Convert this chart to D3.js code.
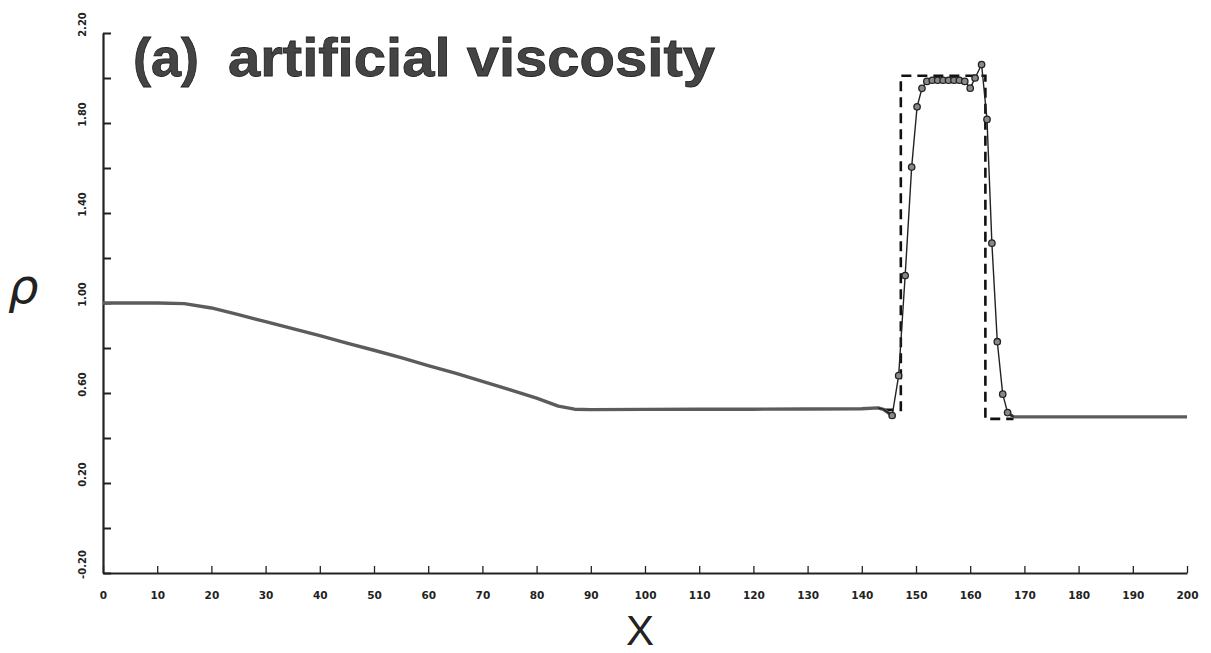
<!DOCTYPE html>
<html>
<head>
<meta charset="utf-8">
<script src="https://cdn.jsdelivr.net/npm/d3@7"></script>
<style>
  body { margin: 0; background: #fff; }
</style>
</head>
<body>
<div id="chart"></div>
<script>
// numerical solution (artificial viscosity)
const numX = [0, 10, 15, 20, 25, 30, 35, 40, 45, 50, 55, 60, 65, 70, 75, 80, 84, 87, 90, 100, 110, 120, 130, 140, 143, 144,
  145.6, 146.8, 148.0, 149.2, 150.2, 151.1, 152, 153, 154, 155, 156, 157, 158, 159, 160, 160.9, 162.1, 163.1, 164.0, 165.0, 166.0, 166.9,
  168, 180, 190, 200];
const numRho = [1.00, 1.00, 0.997, 0.978, 0.948, 0.917, 0.886, 0.855, 0.822, 0.790, 0.757, 0.722, 0.688, 0.652, 0.615, 0.577, 0.542, 0.528, 0.526, 0.527, 0.528, 0.528, 0.529, 0.530, 0.534, 0.527,
  0.500, 0.677, 1.122, 1.604, 1.872, 1.954, 1.985, 1.99, 1.99, 1.99, 1.99, 1.99, 1.99, 1.985, 1.955, 2.00, 2.06, 1.816, 1.266, 0.828, 0.595, 0.513,
  0.494, 0.494, 0.494, 0.494];

// exact solution (dashed)
const exactX = [144, 147.2, 147.2, 162.8, 162.8, 168];
const exactRho = [0.525, 0.525, 2.01, 2.01, 0.485, 0.485];

const xTicks = [0, 10, 20, 30, 40, 50, 60, 70, 80, 90, 100, 110, 120, 130, 140, 150, 160, 170, 180, 190, 200];
const yTicks = [-0.2, 0, 0.2, 0.4, 0.6, 0.8, 1.0, 1.2, 1.4, 1.6, 1.8, 2.0, 2.2];
const yLabelValues = [2.2, 1.8, 1.4, 1.0, 0.6, 0.2, -0.2];
const yLabels = ['2.20', '1.80', '1.40', '1.00', '0.60', '0.20', '-0.20'];

const width = 1211, height = 653;

const svg = d3.select('#chart')
  .append('svg')
  .attr('width', width)
  .attr('height', height);

const x = d3.scaleLinear().domain([0, 200]).range([103, 1187]);
const y = d3.scaleLinear().domain([-0.2, 2.2]).range([573, 33]);

// axes
const xAxis = d3.axisBottom(x)
  .tickValues(xTicks)
  .tickSizeInner(-7)
  .tickSizeOuter(0)
  .tickPadding(19);

const gx = svg.append('g')
  .attr('transform', `translate(0,${y(-0.2)})`)
  .call(xAxis);
gx.select('.domain').attr('stroke', '#222').attr('stroke-width', 2.2);
gx.selectAll('.tick line').attr('stroke', '#222').attr('stroke-width', 1.3);
gx.selectAll('.tick text')
  .style('font-family', 'DejaVu Sans')
  .style('font-weight', 'bold')
  .style('font-size', '10.5px')
  .attr('fill', '#222');

const yAxis = d3.axisLeft(y)
  .tickValues(yTicks)
  .tickSizeInner(-8)
  .tickSizeOuter(0)
  .tickFormat(d => {
    const i = yLabelValues.findIndex(v => Math.abs(v - d) < 1e-6);
    return i >= 0 ? yLabels[i] : '';
  });

const gy = svg.append('g')
  .attr('transform', `translate(${x(0)},0)`)
  .call(yAxis);
gy.select('.domain').attr('stroke', '#222').attr('stroke-width', 2.2);
gy.selectAll('.tick line').attr('stroke', '#222').attr('stroke-width', 2);
gy.selectAll('.tick text')
  .attr('x', 0)
  .attr('dy', 0)
  .attr('text-anchor', 'middle')
  .attr('transform', 'translate(-17,-9) rotate(-90)')
  .style('font-family', 'DejaVu Sans')
  .style('font-weight', 'bold')
  .style('font-size', '10px')
  .attr('fill', '#222');

// exact solution
const line = d3.line()
  .x(d => x(d[0]))
  .y(d => y(d[1]));

svg.append('path')
  .datum(exactX.map((v, i) => [v, exactRho[i]]))
  .attr('d', line)
  .attr('fill', 'none')
  .attr('stroke', '#111')
  .attr('stroke-width', 2.6)
  .attr('stroke-dasharray', '10 6');

// numerical solution
const numData = numX.map((v, i) => [v, numRho[i]]);

// smooth parts: thick grey trace
[numData.filter(d => d[0] <= 145.6), numData.filter(d => d[0] >= 166.9)].forEach(seg => {
  svg.append('path')
    .datum(seg)
    .attr('d', line)
    .attr('fill', 'none')
    .attr('stroke', '#5c5c5c')
    .attr('stroke-width', 3.4)
    .attr('stroke-linejoin', 'round');
});

// shock region: thin line with circles
svg.append('path')
  .datum(numData.filter(d => d[0] >= 143 && d[0] <= 168))
  .attr('d', line)
  .attr('fill', 'none')
  .attr('stroke', '#222')
  .attr('stroke-width', 1.4);

svg.append('g')
  .selectAll('circle')
  .data(numData.filter(d => d[0] >= 145 && d[0] <= 167))
  .enter()
  .append('circle')
  .attr('cx', d => x(d[0]))
  .attr('cy', d => y(d[1]))
  .attr('r', 3.2)
  .attr('fill', '#888')
  .attr('stroke', '#222')
  .attr('stroke-width', 1.3);

// title
svg.append('text')
  .attr('x', 133)
  .attr('y', 76)
  .style('font-family', 'Liberation Sans')
  .style('font-weight', 'bold')
  .style('font-size', '54px')
  .attr('fill', '#444')
  .attr('stroke', '#222')
  .attr('stroke-width', 0.8)
  .text('(a)');

svg.append('text')
  .attr('x', 228)
  .attr('y', 76)
  .attr('textLength', 487)
  .attr('lengthAdjust', 'spacingAndGlyphs')
  .style('font-family', 'Liberation Sans')
  .style('font-weight', 'bold')
  .style('font-size', '54px')
  .attr('fill', '#444')
  .attr('stroke', '#222')
  .attr('stroke-width', 0.8)
  .text('artificial viscosity');

// axis titles
svg.append('text')
  .attr('x', 640)
  .attr('y', 645)
  .attr('text-anchor', 'middle')
  .style('font-family', 'Liberation Sans')
  .style('font-size', '42px')
  .attr('fill', '#222')
  .text('X');

svg.append('text')
  .attr('x', 8)
  .attr('y', 303)
  .style('font-family', 'DejaVu Sans')
  .style('font-style', 'italic')
  .style('font-weight', '300')
  .style('font-size', '48px')
  .attr('fill', '#222')
  .text('ρ');
</script>
</body>
</html>
